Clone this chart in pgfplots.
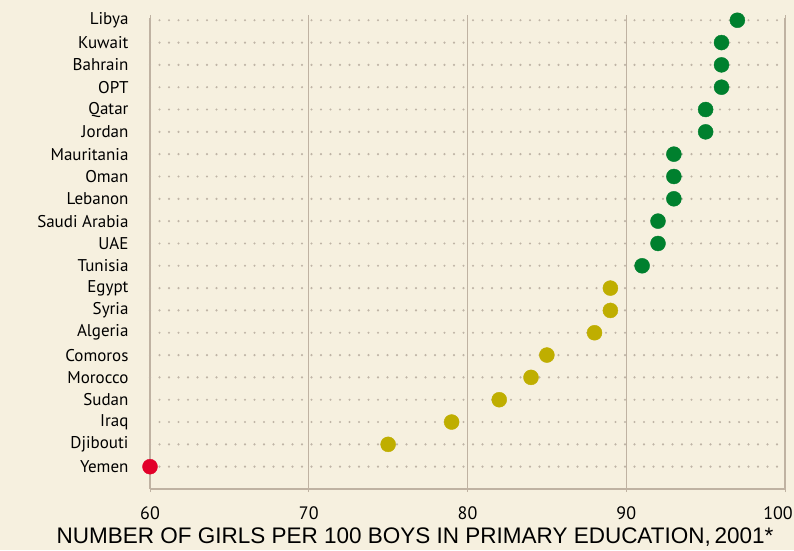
\documentclass[border=0pt]{standalone}
\usepackage{pgfplots}
\pgfplotsset{compat=1.18}
\usepackage{fontspec}
\setmainfont{PT Sans}
\newfontfamily\labfont{Liberation Sans}
\definecolor{bg}{HTML}{F6F0DF}
\definecolor{gridc}{HTML}{BFB2A2}
\definecolor{dotc}{HTML}{BFB4A6}
\definecolor{cgreen}{HTML}{00802E}
\definecolor{colive}{HTML}{BFAE00}
\definecolor{cred}{HTML}{E2002A}
\begin{document}
\begin{tikzpicture}
\fill[bg] (-150pt,-61pt) rectangle (644pt,489pt);
\useasboundingbox (-150pt,-61pt) rectangle (644pt,489pt);
\begin{axis}[
  at={(0,0)}, anchor=south west,
  scale only axis, width=635pt, height=471pt,
  xmin=60, xmax=100, ymin=-1, ymax=20.1,
  xtick={60,70,80,90,100},
  xticklabels={60,70,80,90,\hspace*{-14pt}100},
  ytick={0,...,20},
  yticklabels={Yemen,Djibouti,Iraq,Sudan,Morocco,Comoros,Algeria,Syria,Egypt,Tunisia,UAE,Saudi Arabia,Lebanon,Oman,Mauritania,Jordan,Qatar,OPT,Bahrain,Kuwait,Libya},
  /pgf/number format/assume math mode=true,
  xticklabel style={font=\fontsize{18}{20}\selectfont, text=black, yshift=-11pt},
  yticklabel style={font=\fontsize{17}{19}\selectfont, text=black, xshift=-15pt},
  axis line style={draw=none},
  xtick style={draw=gridc, line width=1pt},
  ytick style={draw=none},
  major tick length=3pt, tick align=outside,
  xmajorgrids, ymajorgrids,
  x grid style={gridc, line width=1.4pt},
  y grid style={dotc, line width=2.4pt, line cap=round, dash pattern=on 0pt off 9.5pt},
  clip=false,
]
\addplot[only marks, mark=*, mark size=7.5pt, mark options={fill=cgreen, draw=cgreen}] coordinates {
(97,20) (96,19) (96,18) (96,17) (95,16) (95,15) (93,14) (93,13) (93,12) (92,11) (92,10) (91,9)};
\addplot[only marks, mark=*, mark size=7.5pt, mark options={fill=colive, draw=colive}] coordinates {
(89,8) (89,7) (88,6) (85,5) (84,4) (82,3) (79,2) (75,1)};
\addplot[only marks, mark=*, mark size=7.5pt, mark options={fill=cred, draw=cred}] coordinates {
(60,0)};
\draw[gridc, line width=1.4pt] (axis cs:60,-1) -- (axis cs:100,-1);
\end{axis}
\node[font=\labfont\fontsize{22.5}{24}\selectfont] at (265pt,-48pt) {NUMBER OF GIRLS PER 100 BOYS IN PRIMARY EDUCATION,\,2001*};
\end{tikzpicture}
\end{document}
